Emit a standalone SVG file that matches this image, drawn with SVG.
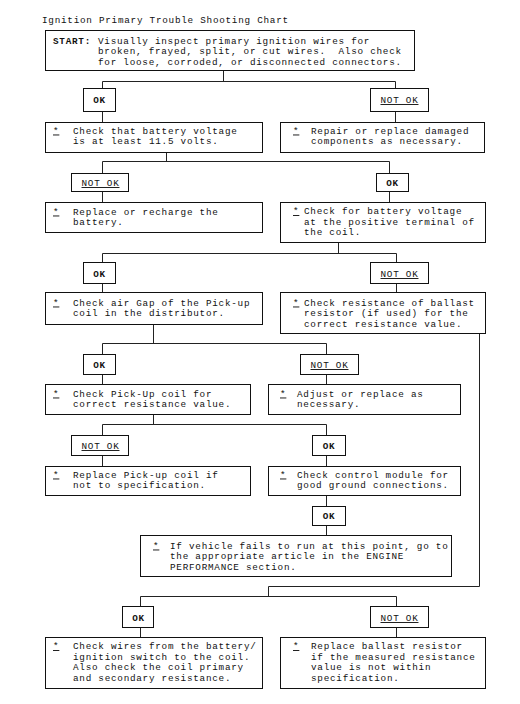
<svg xmlns="http://www.w3.org/2000/svg" width="520" height="704" viewBox="0 0 520 704">
<style>
  text { font-family: "Liberation Mono", "DejaVu Sans Mono", monospace; font-size: 9.3px; letter-spacing: 0.75px; fill: #111; }
  .box { fill: #fff; stroke: #111; stroke-width: 1; }
  .lbl { fill: #fff; stroke: #111; stroke-width: 1; }
  .ok { font-weight: bold; text-anchor: middle; }
  .nok { text-decoration: underline; text-anchor: middle; }
  .star { text-decoration: underline; }
  .b { font-weight: bold; }
  #connectors path { fill: none; stroke: #222; stroke-width: 1; }
</style>
<rect width="520" height="704" fill="#fff"/>
<text x="42" y="23">Ignition Primary Trouble Shooting Chart</text>

<g id="connectors">
  <path d="M223.5 70V81.5M102.5 81.5H395.5M102.5 81.5V88M395.5 81.5V88M102.5 111V122M395.5 111V122"/>
  <path d="M166.5 152V161.5M102.5 161.5H389.5M102.5 161.5V173M389.5 161.5V173M102.5 191V202M389.5 191V202"/>
  <path d="M338.5 242V253.5M102.5 253.5H396.5M102.5 253.5V262M396.5 253.5V262M102.5 283V292M396.5 283V292"/>
  <path d="M153.5 324V343.5M102.5 343.5H326.5M102.5 343.5V354M326.5 343.5V354M102.5 374V384M326.5 374V384"/>
  <path d="M153.5 414V424.5M102.5 424.5H326.5M102.5 424.5V435M326.5 424.5V435M102.5 455V466M326.5 455V466"/>
  <path d="M326.5 495V506M326.5 525V535"/>
  <path d="M479.5 333V586.5H268.5V596.5M140.5 596.5H396.5M140.5 596.5V606M396.5 596.5V606M140.5 627V637M396.5 627V637"/>
</g>

<g id="start">
  <rect class="box" x="45.5" y="30.5" width="369" height="40"/>
  <text x="53" y="43.5" xml:space="preserve"><tspan class="b">START:</tspan><tspan x="98" y="43.5">Visually inspect primary ignition wires for</tspan><tspan x="98" y="54">broken, frayed, split, or cut wires.  Also check</tspan><tspan x="98" y="64.5">for loose, corroded, or disconnected connectors.</tspan></text>
</g>

<g id="ok1"><rect class="lbl" x="83.5" y="88.5" width="32" height="23"/><text class="ok" x="99.5" y="103">OK</text></g>
<g id="notok1"><rect class="lbl" x="370.5" y="88.5" width="58" height="23"/><text class="nok" x="399.5" y="103">NOT OK</text></g>

<g id="check-battery">
  <rect class="box" x="45.5" y="122.5" width="217" height="30"/>
  <text x="53" y="133.5"><tspan class="star">*</tspan><tspan x="73" y="133.5">Check that battery voltage</tspan><tspan x="73" y="144">is at least 11.5 volts.</tspan></text>
</g>
<g id="repair">
  <rect class="box" x="280.5" y="122.5" width="204" height="30"/>
  <text x="293" y="133.5"><tspan class="star">*</tspan><tspan x="311" y="133.5">Repair or replace damaged</tspan><tspan x="311" y="144">components as necessary.</tspan></text>
</g>

<g id="notok2"><rect class="lbl" x="71.5" y="173.5" width="57" height="18"/><text class="nok" x="100.5" y="186">NOT OK</text></g>
<g id="ok2"><rect class="lbl" x="376.5" y="173.5" width="32" height="18"/><text class="ok" x="392.5" y="186">OK</text></g>

<g id="replace-battery">
  <rect class="box" x="45.5" y="202.5" width="217" height="30"/>
  <text x="53" y="214.5"><tspan class="star">*</tspan><tspan x="73" y="214.5">Replace or recharge the</tspan><tspan x="73" y="225">battery.</tspan></text>
</g>
<g id="coil-voltage">
  <rect class="box" x="280.5" y="202.5" width="205" height="40"/>
  <text x="293" y="214"><tspan class="star">*</tspan><tspan x="304" y="214">Check for battery voltage</tspan><tspan x="304" y="224.5">at the positive terminal of</tspan><tspan x="304" y="235">the coil.</tspan></text>
</g>

<g id="ok3"><rect class="lbl" x="83.5" y="262.5" width="32" height="21"/><text class="ok" x="99.5" y="277">OK</text></g>
<g id="notok3"><rect class="lbl" x="370.5" y="262.5" width="58" height="21"/><text class="nok" x="399.5" y="277">NOT OK</text></g>

<g id="air-gap">
  <rect class="box" x="45.5" y="292.5" width="217" height="32"/>
  <text x="53" y="305.5"><tspan class="star">*</tspan><tspan x="73" y="305.5">Check air Gap of the Pick-up</tspan><tspan x="73" y="316">coil in the distributor.</tspan></text>
</g>
<g id="ballast-check">
  <rect class="box" x="280.5" y="292.5" width="205" height="41"/>
  <text x="293" y="305.5"><tspan class="star">*</tspan><tspan x="304" y="305.5">Check resistance of ballast</tspan><tspan x="304" y="316">resistor (if used) for the</tspan><tspan x="304" y="326.5">correct resistance value.</tspan></text>
</g>

<g id="ok4"><rect class="lbl" x="83.5" y="354.5" width="32" height="20"/><text class="ok" x="99.5" y="368">OK</text></g>
<g id="notok4"><rect class="lbl" x="300.5" y="354.5" width="58" height="20"/><text class="nok" x="329.5" y="368">NOT OK</text></g>

<g id="pickup-resistance">
  <rect class="box" x="45.5" y="384.5" width="205" height="30"/>
  <text x="53" y="396.5"><tspan class="star">*</tspan><tspan x="73" y="396.5">Check Pick-Up coil for</tspan><tspan x="73" y="407">correct resistance value.</tspan></text>
</g>
<g id="adjust">
  <rect class="box" x="268.5" y="384.5" width="192" height="30"/>
  <text x="280" y="396.5"><tspan class="star">*</tspan><tspan x="297" y="396.5">Adjust or replace as</tspan><tspan x="297" y="407">necessary.</tspan></text>
</g>

<g id="notok5"><rect class="lbl" x="71.5" y="435.5" width="57" height="20"/><text class="nok" x="100.5" y="449">NOT OK</text></g>
<g id="ok5"><rect class="lbl" x="312.5" y="435.5" width="33" height="20"/><text class="ok" x="329" y="449">OK</text></g>

<g id="replace-pickup">
  <rect class="box" x="45.5" y="466.5" width="205" height="29"/>
  <text x="53" y="477.5"><tspan class="star">*</tspan><tspan x="73" y="477.5">Replace Pick-up coil if</tspan><tspan x="73" y="488">not to specification.</tspan></text>
</g>
<g id="control-module">
  <rect class="box" x="268.5" y="466.5" width="192" height="29"/>
  <text x="280" y="477.5"><tspan class="star">*</tspan><tspan x="297" y="477.5">Check control module for</tspan><tspan x="297" y="488">good ground connections.</tspan></text>
</g>

<g id="ok6"><rect class="lbl" x="312.5" y="506.5" width="33" height="19"/><text class="ok" x="329" y="519">OK</text></g>

<g id="vehicle-fails">
  <rect class="box" x="140.5" y="535.5" width="311" height="41"/>
  <text x="153" y="548.5"><tspan class="star">*</tspan><tspan x="170" y="548.5">If vehicle fails to run at this point, go to</tspan><tspan x="170" y="559">the appropriate article in the ENGINE</tspan><tspan x="170" y="569.5">PERFORMANCE section.</tspan></text>
</g>

<g id="ok7"><rect class="lbl" x="122.5" y="606.5" width="31" height="21"/><text class="ok" x="138.5" y="621">OK</text></g>
<g id="notok7"><rect class="lbl" x="370.5" y="606.5" width="58" height="21"/><text class="nok" x="399.5" y="621">NOT OK</text></g>

<g id="check-wires">
  <rect class="box" x="45.5" y="637.5" width="217" height="51"/>
  <text x="53" y="649"><tspan class="star">*</tspan><tspan x="73" y="649">Check wires from the battery/</tspan><tspan x="73" y="659.5">ignition switch to the coil.</tspan><tspan x="73" y="670">Also check the coil primary</tspan><tspan x="73" y="680.5">and secondary resistance.</tspan></text>
</g>
<g id="replace-ballast">
  <rect class="box" x="280.5" y="637.5" width="205" height="51"/>
  <text x="293" y="649"><tspan class="star">*</tspan><tspan x="311" y="649">Replace ballast resistor</tspan><tspan x="311" y="659.5">if the measured resistance</tspan><tspan x="311" y="670">value is not within</tspan><tspan x="311" y="680.5">specification.</tspan></text>
</g>
</svg>
